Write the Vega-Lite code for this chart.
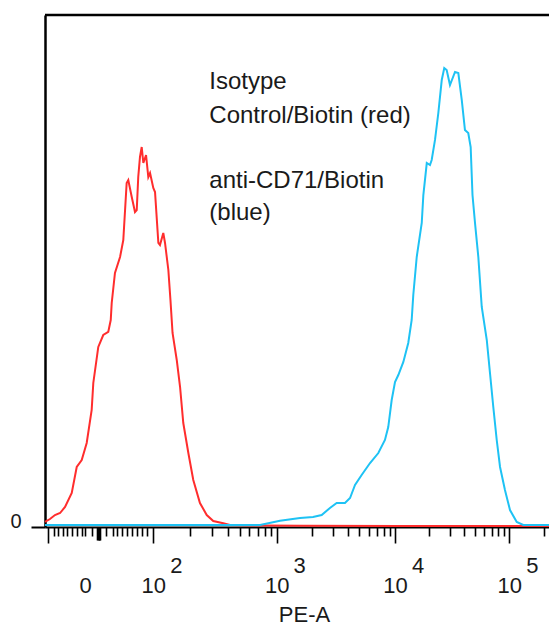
{
  "$schema": "https://vega.github.io/schema/vega-lite/v6.json",
  "width": 504,
  "height": 512,
  "autosize": {"type": "none"},
  "padding": {"left": 45, "top": 15, "right": 0, "bottom": 100},
  "background": "white",
  "config": {"view": {"stroke": null}},
  "datasets": {
    "red": [
      {"pe": 1.000, "count": 0.98}, {"pe": 1.046, "count": 1.56}, {"pe": 1.092, "count": 2.34},
      {"pe": 1.139, "count": 2.73}, {"pe": 1.185, "count": 3.91}, {"pe": 1.247, "count": 6.64},
      {"pe": 1.293, "count": 11.72}, {"pe": 1.339, "count": 13.09}, {"pe": 1.385, "count": 16.41},
      {"pe": 1.431, "count": 22.85}, {"pe": 1.446, "count": 28.13}, {"pe": 1.492, "count": 35.16},
      {"pe": 1.538, "count": 37.5}, {"pe": 1.584, "count": 38.09}, {"pe": 1.607, "count": 40.43},
      {"pe": 1.616, "count": 43.75}, {"pe": 1.646, "count": 49.61}, {"pe": 1.693, "count": 52.73},
      {"pe": 1.723, "count": 56.05}, {"pe": 1.754, "count": 67.19}, {"pe": 1.769, "count": 67.77},
      {"pe": 1.801, "count": 64.45}, {"pe": 1.831, "count": 61.52}, {"pe": 1.847, "count": 61.91},
      {"pe": 1.861, "count": 68.36}, {"pe": 1.877, "count": 72.27}, {"pe": 1.893, "count": 74.22},
      {"pe": 1.908, "count": 71.09}, {"pe": 1.933, "count": 72.66}, {"pe": 1.954, "count": 68.36},
      {"pe": 1.970, "count": 69.14}, {"pe": 2.000, "count": 66.21}, {"pe": 2.014, "count": 65.43},
      {"pe": 2.041, "count": 55.47}, {"pe": 2.054, "count": 55.08}, {"pe": 2.081, "count": 57.42},
      {"pe": 2.095, "count": 55.47}, {"pe": 2.122, "count": 50.2}, {"pe": 2.139, "count": 44.34},
      {"pe": 2.156, "count": 37.89}, {"pe": 2.190, "count": 32.62}, {"pe": 2.217, "count": 27.34},
      {"pe": 2.243, "count": 20.31}, {"pe": 2.284, "count": 14.45}, {"pe": 2.324, "count": 9.18},
      {"pe": 2.378, "count": 4.69}, {"pe": 2.433, "count": 2.34}, {"pe": 2.486, "count": 1.17},
      {"pe": 2.567, "count": 0.72}, {"pe": 2.621, "count": 0.39}, {"pe": 2.865, "count": 0.3},
      {"pe": 3.197, "count": 0.25}, {"pe": 4.044, "count": 0.2}, {"pe": 5.347, "count": 0.2}
    ],
    "blue": [
      {"pe": 1.000, "count": 0.39}, {"pe": 1.508, "count": 0.39}, {"pe": 2.378, "count": 0.39},
      {"pe": 2.865, "count": 0.39}, {"pe": 3.028, "count": 1.23}, {"pe": 3.197, "count": 1.76},
      {"pe": 3.307, "count": 1.95}, {"pe": 3.380, "count": 2.34}, {"pe": 3.450, "count": 3.71},
      {"pe": 3.507, "count": 4.69}, {"pe": 3.577, "count": 4.69}, {"pe": 3.620, "count": 5.66},
      {"pe": 3.662, "count": 8.2}, {"pe": 3.718, "count": 10.16}, {"pe": 3.789, "count": 12.5},
      {"pe": 3.859, "count": 14.45}, {"pe": 3.915, "count": 16.99}, {"pe": 3.943, "count": 19.53},
      {"pe": 3.972, "count": 24.8}, {"pe": 4.000, "count": 28.32}, {"pe": 4.029, "count": 29.69},
      {"pe": 4.073, "count": 32.23}, {"pe": 4.116, "count": 35.94}, {"pe": 4.146, "count": 40.43},
      {"pe": 4.160, "count": 45.31}, {"pe": 4.190, "count": 52.73}, {"pe": 4.234, "count": 59.38},
      {"pe": 4.248, "count": 64.84}, {"pe": 4.278, "count": 71.09}, {"pe": 4.306, "count": 70.7},
      {"pe": 4.321, "count": 71.68}, {"pe": 4.350, "count": 75.59}, {"pe": 4.379, "count": 80.86},
      {"pe": 4.409, "count": 87.3}, {"pe": 4.431, "count": 89.65}, {"pe": 4.452, "count": 89.26},
      {"pe": 4.481, "count": 86.33}, {"pe": 4.525, "count": 88.87}, {"pe": 4.554, "count": 88.67},
      {"pe": 4.584, "count": 83.4}, {"pe": 4.612, "count": 77.54}, {"pe": 4.641, "count": 76.95},
      {"pe": 4.662, "count": 74.22}, {"pe": 4.678, "count": 64.84}, {"pe": 4.700, "count": 59.38},
      {"pe": 4.729, "count": 52.73}, {"pe": 4.759, "count": 42.97}, {"pe": 4.803, "count": 36.52},
      {"pe": 4.831, "count": 30.08}, {"pe": 4.860, "count": 23.44}, {"pe": 4.890, "count": 16.99},
      {"pe": 4.919, "count": 11.72}, {"pe": 4.962, "count": 7.23}, {"pe": 5.006, "count": 3.32},
      {"pe": 5.065, "count": 0.98}, {"pe": 5.122, "count": 0.39}, {"pe": 5.347, "count": 0.39}
    ],
    "notes": [
      {"pe": 2.454, "count": 85.49, "text": "Isotype"},
      {"pe": 2.454, "count": 78.85, "text": "Control/Biotin (red)"},
      {"pe": 2.454, "count": 66.15, "text": "anti-CD71/Biotin"},
      {"pe": 2.454, "count": 59.96, "text": "(blue)"}
    ],
    "exponents": [
      {"pe": 2, "count": 0, "power": "2"},
      {"pe": 3, "count": 0, "power": "3"},
      {"pe": 4, "count": 0, "power": "4"},
      {"pe": 5, "count": 0, "power": "5"}
    ]
  },
  "encoding": {
    "x": {
      "field": "pe",
      "type": "quantitative",
      "scale": {"domain": [1, 2, 3, 4, 5, 5.347], "range": [0, 108.3, 231.7, 350, 464.3, 504], "zero": false, "nice": false},
      "axis": {
        "title": "PE-A",
        "grid": false,
        "values": [1.03, 1.083, 1.12, 1.163, 1.203, 1.252, 1.295, 1.339, 1.37, 1.431, 1.476, 1.485, 1.494, 1.503, 1.512, 1.563, 1.624, 1.665, 1.711, 1.757, 1.8, 1.846, 1.893, 1.942,
          2, 2.301, 2.477, 2.602, 2.699, 2.778, 2.845, 2.903, 2.954,
          3, 3.301, 3.477, 3.602, 3.699, 3.778, 3.845, 3.903, 3.954,
          4, 4.301, 4.477, 4.602, 4.699, 4.778, 4.845, 4.903, 4.954,
          5, 5.301],
        "labelExpr": "datum.value==2||datum.value==3||datum.value==4||datum.value==5?'10':datum.value==1.37?'0':''",
        "labelOverlap": false,
        "labelFlush": false,
        "labelBound": false,
        "labelFont": "Liberation Sans",
        "labelFontSize": 22,
        "labelColor": "#1a1a1a",
        "labelAlign": "center",
        "labelBaseline": "alphabetic",
        "labelPadding": {"condition": {"test": "datum.value==1.37", "value": 56}, "value": 49},
        "tickSize": {"condition": [
          {"test": "datum.value==1.03||datum.value==2||datum.value==3||datum.value==4||datum.value==5", "value": 16},
          {"test": "datum.value>1.47&&datum.value<1.52", "value": 13}
        ], "value": 9},
        "tickColor": "black",
        "tickWidth": 1.6,
        "domainColor": "black",
        "domainWidth": 2,
        "titleFont": "Liberation Sans",
        "titleFontSize": 22,
        "titleFontWeight": "normal",
        "titleColor": "#1a1a1a",
        "titlePadding": 8,
        "titleX": 259
      }
    },
    "y": {
      "field": "count",
      "type": "quantitative",
      "scale": {"domain": [0, 100], "nice": false},
      "axis": {
        "title": null,
        "grid": false,
        "values": [0],
        "labelFont": "Liberation Sans",
        "labelFontSize": 20,
        "labelColor": "#1a1a1a",
        "labelBaseline": "alphabetic",
        "labelPadding": 10,
        "tickSize": 14,
        "tickColor": "black",
        "tickWidth": 2,
        "domainColor": "black",
        "domainWidth": 2.5
      }
    }
  },
  "layer": [
    {
      "data": {"name": "red"},
      "mark": {"type": "line", "color": "#ff2d2d", "strokeWidth": 2}
    },
    {
      "data": {"name": "blue"},
      "mark": {"type": "line", "color": "#1ec2f4", "strokeWidth": 2}
    },
    {
      "data": {"values": [{"count": 100}]},
      "mark": {"type": "rule", "color": "black", "strokeWidth": 2.5},
      "encoding": {"x": null, "y": {"field": "count", "type": "quantitative"}}
    },
    {
      "data": {"name": "notes"},
      "mark": {"type": "text", "align": "left", "baseline": "alphabetic", "font": "Liberation Sans", "fontSize": 24, "color": "#1a1a1a"},
      "encoding": {"text": {"field": "text"}}
    },
    {
      "data": {"name": "exponents"},
      "mark": {"type": "text", "align": "center", "baseline": "alphabetic", "font": "Liberation Sans", "fontSize": 22, "color": "#1a1a1a", "dx": 23, "dy": 46},
      "encoding": {"text": {"field": "power", "type": "nominal"}}
    }
  ]
}
